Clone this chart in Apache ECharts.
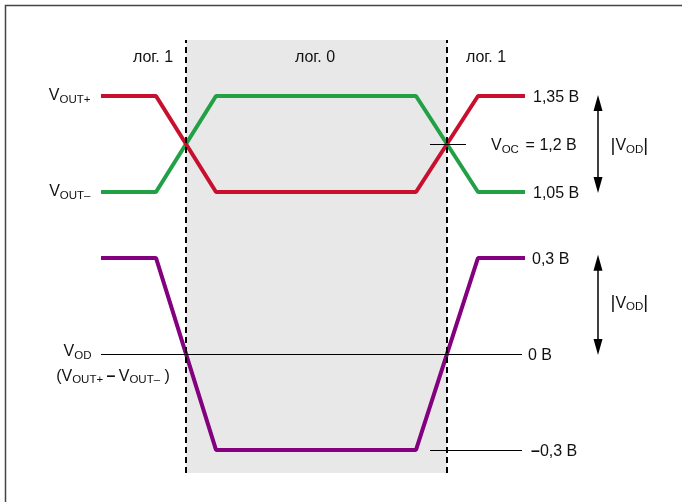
<!DOCTYPE html>
<html>
<head>
<meta charset="utf-8">
<script src="https://cdn.jsdelivr.net/npm/echarts@6/dist/echarts.min.js"></script>
<style>
  html, body { margin: 0; padding: 0; background: #fff; }
  #chart { width: 682px; height: 502px; }
</style>
</head>
<body>
<div id="chart"></div>
<script>
// time points of the waveforms (arbitrary units)
const times = [0, 5.5, 11.5, 31.5, 37.7, 42.4];
const voutPlus = [1.35, 1.35, 1.05, 1.05, 1.35, 1.35];
const voutMinus = [1.05, 1.05, 1.35, 1.35, 1.05, 1.05];
const vod = [0.3, 0.3, -0.3, -0.3, 0.3, 0.3];

// logic 0 interval and logic state labels
const logicEdges = [8.5, 34.6];
const logicLabels = ['лог. 1', 'лог. 0', 'лог. 1'];
const logicLabelPos = [5.2, 21.4, 38.5];

// levels
const vocLevel = 1.2;
const zeroLevel = 0;
const lowLevel = -0.3;
const levelTexts = ['1,35 В', '1,05 В', '0,3 В', '0 В', '0,3 В', '= 1,2 В'];

const font = 'Liberation Sans, Arial, sans-serif';
const ink = '#111';
const rich = {
  v: { fontSize: 16, color: ink, fontFamily: font, lineHeight: 19 },
  s: { fontSize: 11.5, color: ink, fontFamily: font, lineHeight: 11, verticalAlign: 'bottom' },
  t: { fontSize: 16, color: ink, fontFamily: font, lineHeight: 19 },
  d: { fontSize: 16, color: ink, fontFamily: font, lineHeight: 19, fontWeight: 'bold' },
  b: { fontSize: 19, color: ink, fontFamily: font, lineHeight: 19 }
};

let chart = echarts.init(document.getElementById('chart'));

let pts = (ys) => times.map((t, i) => [t, ys[i]]);
let hidden = { show: false };
let noTip = { symbol: 'circle', symbolSize: 1, itemStyle: { color: 'rgba(0,0,0,0)' } };
let plain = { fontSize: 16, color: ink, fontFamily: font, offset: [0, 2] };

let option = {
  animation: false,
  textStyle: { fontFamily: font },
  graphic: [{
    type: 'rect',
    shape: { x: 5.5, y: 5.5, width: 800, height: 800 },
    style: { fill: 'none', stroke: '#444', lineWidth: 1.5 },
    silent: true
  }],
  grid: { left: 1, right: 1, top: 40, height: 433 },
  xAxis: { type: 'value', min: -10, max: 58, show: false },
  yAxis: [
    { type: 'value', min: 0.172, max: 1.525, show: false },
    { type: 'value', min: -0.372, max: 0.981, show: false }
  ],
  series: [
    {
      // background: logic 0 band, edges, state labels
      type: 'line', data: [], yAxisIndex: 0, z: 1,
      markArea: {
        silent: true,
        itemStyle: { color: '#e8e8e8' },
        data: [[{ xAxis: logicEdges[0] }, { xAxis: logicEdges[1] }]]
      },
      markLine: {
        silent: true, symbol: 'none',
        label: hidden,
        lineStyle: { color: '#000', width: 2, type: [6, 4] },
        data: logicEdges.map(e => ({ xAxis: e }))
      },
      markPoint: Object.assign({}, noTip, {
        label: Object.assign({ show: true, position: 'inside' }, plain),
        data: logicLabels.map((l, i) => ({ coord: [logicLabelPos[i], 1.475], value: l }))
      })
    },
    {
      name: 'VOUT+', type: 'line', yAxisIndex: 0, z: 4,
      data: pts(voutPlus), symbol: 'none',
      lineStyle: { color: '#c8102e', width: 4 },
      itemStyle: { color: '#c8102e' },
      endLabel: Object.assign({ show: true, formatter: levelTexts[0], distance: 8 }, plain),
      markPoint: Object.assign({}, noTip, {
        label: { show: true, position: 'left', distance: 10, offset: [0, 0], formatter: '{v|V}{s|OUT+}', rich: rich },
        data: [{ coord: [times[0], voutPlus[0]] }]
      })
    },
    {
      name: 'VOUT−', type: 'line', yAxisIndex: 0, z: 3,
      data: pts(voutMinus), symbol: 'none',
      lineStyle: { color: '#22a046', width: 4 },
      itemStyle: { color: '#22a046' },
      endLabel: Object.assign({ show: true, formatter: levelTexts[1], distance: 8 }, plain),
      markPoint: Object.assign({}, noTip, {
        label: { show: true, position: 'left', distance: 10, offset: [0, 0], formatter: '{v|V}{s|OUT–}', rich: rich },
        data: [{ coord: [times[0], voutMinus[0]] }]
      })
    },
    {
      name: 'VOD', type: 'line', yAxisIndex: 1, z: 4,
      data: pts(vod), symbol: 'none',
      lineStyle: { color: '#83007f', width: 4 },
      itemStyle: { color: '#83007f' },
      endLabel: Object.assign({ show: true, formatter: levelTexts[2], distance: 7 }, plain)
    },
    {
      // reference levels of the lower plot
      type: 'line', data: [], yAxisIndex: 1, z: 2,
      markLine: {
        silent: true, symbol: 'none',
        lineStyle: { color: '#000', width: 1.2, type: 'solid' },
        data: [
          [{ coord: [0, zeroLevel] }, { coord: [42.1, zeroLevel],
            label: Object.assign({ show: true, position: 'end', distance: 6, formatter: levelTexts[3] }, plain) }],
          [{ coord: [32.9, lowLevel] }, { coord: [42.1, lowLevel],
            label: { show: true, position: 'end', distance: 9, offset: [0, 2], formatter: '{d|–}{t|' + levelTexts[4] + '}', rich: rich } }]
        ]
      },
      markPoint: Object.assign({}, noTip, {
        data: [
          { coord: [0, zeroLevel],
            label: { show: true, position: 'left', distance: 9, offset: [0, -2], formatter: '{v|V}{s|OD}', rich: rich } },
          { coord: [1.2, -0.07],
            label: { show: true, position: 'inside', formatter: '{t|(}{v|V}{s|OUT+} {d|–} {v|V}{s|OUT–}{t| )}', rich: rich } },
          { coord: [49.7, 0.165],
            label: { show: true, position: 'right', distance: 12, offset: [0, 2], formatter: '{b||}{v|V}{s|OD}{b||}', rich: rich } }
        ]
      })
    },
    {
      // |VOD| arrow, lower plot
      type: 'line', data: [], yAxisIndex: 1, z: 2,
      markLine: {
        silent: true, symbol: ['triangle', 'triangle'], symbolSize: [9, 16],
        label: hidden,
        lineStyle: { color: '#000', width: 1.5, type: 'solid' },
        itemStyle: { color: '#000' },
        data: [[{ coord: [49.7, 0.285] }, { coord: [49.7, 0.022] }]]
      }
    },
    {
      // VOC crossing mark and |VOD| label, upper plot
      type: 'line', data: [], yAxisIndex: 0, z: 5,
      markLine: {
        silent: true, symbol: 'none',
        lineStyle: { color: '#000', width: 1.2, type: 'solid' },
        data: [
          [{ coord: [32.9, vocLevel] }, { coord: [36.5, vocLevel],
            label: { show: true, position: 'end', distance: 25, offset: [0, 2], formatter: '{v|V}{s|OC}  {t|' + levelTexts[5] + '}', rich: rich } }]
        ]
      },
      markPoint: Object.assign({}, noTip, {
        data: [
          { coord: [49.7, vocLevel],
            label: { show: true, position: 'right', distance: 12, offset: [0, 2], formatter: '{b||}{v|V}{s|OD}{b||}', rich: rich } }
        ]
      })
    },
    {
      // |VOD| arrow, upper plot
      type: 'line', data: [], yAxisIndex: 0, z: 2,
      markLine: {
        silent: true, symbol: ['triangle', 'triangle'], symbolSize: [9, 16],
        label: hidden,
        lineStyle: { color: '#000', width: 1.5, type: 'solid' },
        itemStyle: { color: '#000' },
        data: [[{ coord: [49.7, 1.328] }, { coord: [49.7, 1.072] }]]
      }
    }
  ]
};
chart.setOption(option);
</script>
</body>
</html>
